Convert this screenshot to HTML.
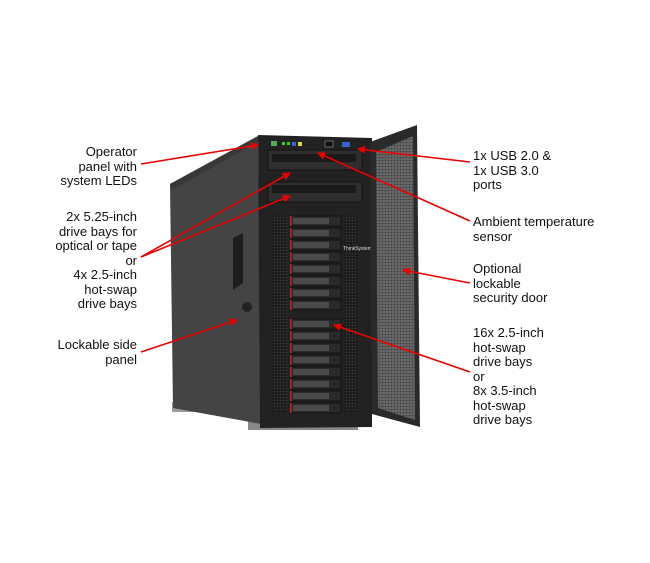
<!DOCTYPE html>
<html><head><style>
html,body{margin:0;padding:0;background:#fff;width:650px;height:563px;overflow:hidden;position:relative}
.t{position:absolute;font-family:"Liberation Sans",Arial,sans-serif;font-size:13px;line-height:14.5px;color:#111}
.l{text-align:right;right:513px}
.r{left:473px}
</style></head><body>
<svg width="650" height="563" style="position:absolute;left:0;top:0">
<defs>
<pattern id="mesh" width="3" height="3" patternUnits="userSpaceOnUse"><rect width="3" height="3" fill="#666"/><circle cx="1.5" cy="1.5" r="0.8" fill="#3a3a3a"/></pattern>
<pattern id="mesh2" width="3" height="3" patternUnits="userSpaceOnUse"><rect width="3" height="3" fill="#1c1c1c"/><circle cx="1.5" cy="1.5" r="0.8" fill="#3c3c3c"/></pattern>
<marker id="a" markerWidth="8" markerHeight="8" refX="7" refY="4" orient="auto" markerUnits="userSpaceOnUse"><path d="M0,0 L8,4 L0,8 Z" fill="#e00"/></marker>
</defs>
<rect x="172" y="402" width="80" height="10" fill="#999"/>
<rect x="248" y="420" width="110" height="10" fill="#888"/>
<polygon points="170,184 258,136 261,424 173,408" fill="#444"/>
<polygon points="170,184 258,136 258,142 172,190" fill="#383838"/>
<polygon points="233,238 243,233 243,283 233,290" fill="#1e1e1e"/>
<circle cx="247" cy="307" r="5" fill="#222"/>
<polygon points="258,135 372,138 372,427 260,428" fill="#222"/>
<rect x="268" y="150" width="94" height="20" fill="#2e2e2e" stroke="#111"/>
<rect x="272" y="154" width="84" height="8" fill="#1a1a1a"/>
<rect x="268" y="182" width="94" height="20" fill="#2e2e2e" stroke="#111"/>
<rect x="272" y="185" width="84" height="8" fill="#1a1a1a"/>
<rect x="271" y="141" width="6" height="5" fill="#5a5"/>
<rect x="282" y="142" width="3" height="3" fill="#3c3"/><rect x="287" y="142" width="3" height="3" fill="#3c3"/>
<rect x="292" y="142" width="4" height="4" fill="#36d"/><rect x="298" y="142" width="4" height="4" fill="#dd3"/>
<rect x="325" y="141" width="8" height="6" fill="#111" stroke="#666"/>
<rect x="342" y="142" width="8" height="5" fill="#36c"/>
<rect x="272" y="215" width="15" height="197" fill="url(#mesh2)"/>
<rect x="344" y="215" width="14" height="197" fill="url(#mesh2)"/>
<g id="d">
<rect x="291" y="216" width="50" height="10" fill="#2a2a2a" stroke="#111"/>
<rect x="293" y="218" width="36" height="6" fill="#4a4a4a"/>
<rect x="290" y="216" width="1.5" height="10" fill="#c22"/>
</g>
<use href="#d" y="12"/><use href="#d" y="24"/><use href="#d" y="36"/><use href="#d" y="48"/><use href="#d" y="60"/><use href="#d" y="72"/><use href="#d" y="84"/>
<use href="#d" y="103"/><use href="#d" y="115"/><use href="#d" y="127"/><use href="#d" y="139"/><use href="#d" y="151"/><use href="#d" y="163"/><use href="#d" y="175"/><use href="#d" y="187"/>
<text x="343" y="250" font-size="5" fill="#ddd" font-family="Liberation Sans">ThinkSystem</text>
<polygon points="370,142 417,125 420,427 372,414" fill="#2a2a2a"/>
<polygon points="376,152 413,136 415,420 378,408" fill="url(#mesh)"/>
<g stroke="#e00" stroke-width="1.6" fill="none" marker-end="url(#a)">
<line x1="141" y1="164" x2="258" y2="145"/>
<line x1="141" y1="257" x2="290" y2="173"/>
<line x1="141" y1="257" x2="290" y2="196"/>
<line x1="141" y1="352" x2="237" y2="320"/>
<line x1="470" y1="162" x2="358" y2="149"/>
<line x1="470" y1="221" x2="318" y2="153"/>
<line x1="470" y1="283" x2="403" y2="270"/>
<line x1="470" y1="372" x2="334" y2="325"/>
</g>
</svg>
<div class="t l" style="top:145px">Operator<br>panel with<br>system LEDs</div>
<div class="t l" style="top:210px">2x 5.25-inch<br>drive bays for<br>optical or tape<br>or<br>4x 2.5-inch<br>hot-swap<br>drive bays</div>
<div class="t l" style="top:338px">Lockable side<br>panel</div>
<div class="t r" style="top:149px">1x USB 2.0 &amp;<br>1x USB 3.0<br>ports</div>
<div class="t r" style="top:215px">Ambient temperature<br>sensor</div>
<div class="t r" style="top:262px">Optional<br>lockable<br>security door</div>
<div class="t r" style="top:326px">16x 2.5-inch<br>hot-swap<br>drive bays<br>or<br>8x 3.5-inch<br>hot-swap<br>drive bays</div>
</body></html>
